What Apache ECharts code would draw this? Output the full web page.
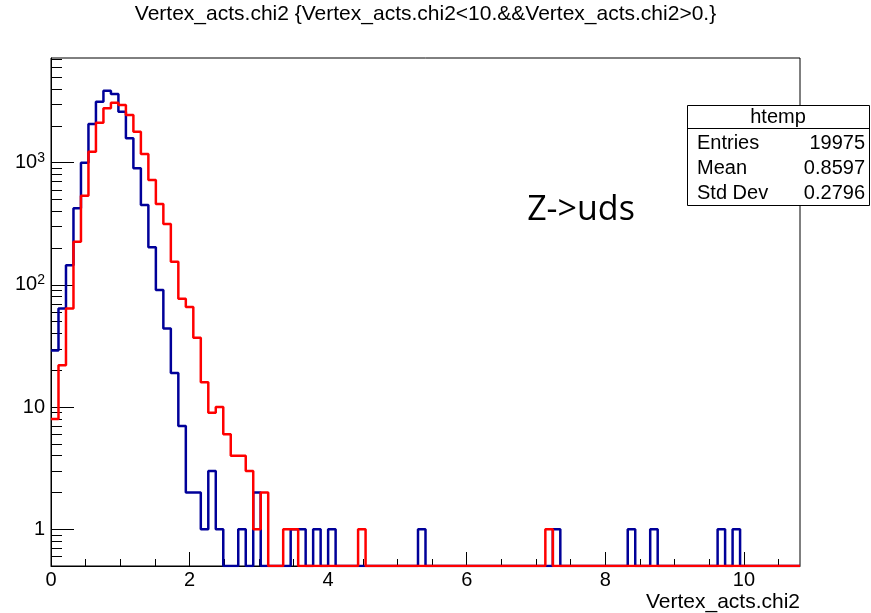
<!DOCTYPE html>
<html>
<head>
<meta charset="utf-8">
<title>Vertex_acts.chi2</title>
<script src="https://cdn.jsdelivr.net/npm/echarts@6/dist/echarts.min.js"></script>
<style>
  html, body { margin: 0; padding: 0; background: #fff; }
  #chart { width: 871px; height: 613px; }
</style>
</head>
<body>
<div id="chart"></div>
<script>
// histogram range, 100 bins
const xMin = 0;
const xMax = 10.81;
const nBins = 100;
const yMin = 0.5;
const yMax = 7200;

// bin contents (blue = htemp, red = second sample)
const blueCounts = [
  29, 64, 145, 424, 1000, 2075, 3155, 3884, 3650, 2615,
  1585, 900, 451, 203, 91, 44, 19, 7, 2, 2,
  1, 3, 1, 0, 0, 1, 0, 2, 0, 0,
  0, 0, 1, 1, 0, 1, 0, 1, 0, 0,
  0, 0, 0, 0, 0, 0, 0, 0, 0, 1,
  0, 0, 0, 0, 0, 0, 0, 0, 0, 0,
  0, 0, 0, 0, 0, 0, 0, 1, 0, 0,
  0, 0, 0, 0, 0, 0, 0, 1, 0, 0,
  1, 0, 0, 0, 0, 0, 0, 0, 0, 1,
  0, 1, 0, 0, 0, 0, 0, 0, 0, 0
];
const redCounts = [
  8, 22, 64, 226, 537, 1230, 2125, 2787, 3100, 2965,
  2457, 1795, 1178, 722, 459, 315, 155, 77, 66, 37,
  16, 9, 10, 6, 4, 4, 3, 1, 2, 0,
  0, 1, 1, 0, 0, 0, 0, 0, 0, 0,
  0, 1, 0, 0, 0, 0, 0, 0, 0, 0,
  0, 0, 0, 0, 0, 0, 0, 0, 0, 0,
  0, 0, 0, 0, 0, 0, 1, 0, 0, 0,
  0, 0, 0, 0, 0, 0, 0, 0, 0, 0,
  0, 0, 0, 0, 0, 0, 0, 0, 0, 0,
  0, 0, 0, 0, 0, 0, 0, 0, 0, 0
];

// axis ticks
const xTickLabels = [0, 2, 4, 6, 8, 10];
const xMinorTicks = [0.5, 1, 1.5, 2, 2.5, 3, 3.5, 4, 4.5, 5, 5.5, 6, 6.5, 7, 7.5, 8, 8.5, 9, 9.5, 10, 10.5];
const yTickLabels = [1, 10, 100, 1000];
const yTickText = ['1', '10', '10{sup|2}', '10{sup|3}'];
const yMinorTicks = [
  0.6, 0.7, 0.8, 0.9,
  2, 3, 4, 5, 6, 7, 8, 9,
  20, 30, 40, 50, 60, 70, 80, 90,
  200, 300, 400, 500, 600, 700, 800, 900,
  2000, 3000, 4000, 5000, 6000, 7000
];

const statsTitle = 'htemp';
const statsRows = [
  ['Entries', '19975'],
  ['Mean', '0.8597'],
  ['Std Dev', '0.2796']
];

const FONT = 'Liberation Sans';

// left edge of every bin + closing point; empty bins sit on the bottom of the log axis
function stepData(counts) {
  const w = (xMax - xMin) / nBins;
  const pts = counts.map((c, i) => [xMin + i * w, c > 0 ? c : yMin]);
  pts.push([xMax, pts[pts.length - 1][1]]);
  return pts;
}

const chart = echarts.init(document.getElementById('chart'));

const statsGraphics = [
  {
    type: 'rect',
    z: 100,
    shape: { x: 687.5, y: 105.5, width: 182, height: 100 },
    style: { fill: '#fff', stroke: '#000', lineWidth: 1 }
  },
  {
    type: 'line',
    z: 101,
    shape: { x1: 687.5, y1: 128.5, x2: 869.5, y2: 128.5 },
    style: { stroke: '#000', lineWidth: 1 }
  },
  {
    type: 'text',
    z: 101,
    x: 778, y: 117,
    style: { text: statsTitle, font: '20px ' + FONT, fill: '#000', align: 'center', verticalAlign: 'middle' }
  }
];
statsRows.forEach((row, i) => {
  statsGraphics.push({
    type: 'text', z: 101, x: 697, y: 143 + i * 25,
    style: { text: row[0], font: '20px ' + FONT, fill: '#000', align: 'left', verticalAlign: 'middle' }
  });
  statsGraphics.push({
    type: 'text', z: 101, x: 865, y: 143 + i * 25,
    style: { text: row[1], font: '20px ' + FONT, fill: '#000', align: 'right', verticalAlign: 'middle' }
  });
});

chart.setOption({
  animation: false,
  backgroundColor: '#fff',
  grid: {
    left: 51, right: 71, top: 58, bottom: 47,
    show: true, borderColor: '#000', borderWidth: 1, backgroundColor: 'transparent'
  },
  xAxis: [
    {
      type: 'value', min: xMin, max: xMax, position: 'bottom',
      axisLine: { show: true, onZero: false, lineStyle: { color: '#000', width: 1 } },
      axisTick: { show: true, inside: true, length: 14, customValues: xTickLabels, lineStyle: { color: '#000' } },
      axisLabel: { customValues: xTickLabels, color: '#000', fontSize: 20, fontFamily: FONT, margin: 4 },
      splitLine: { show: false }
    },
    {
      type: 'value', min: xMin, max: xMax, position: 'bottom',
      axisLine: { show: false, onZero: false },
      axisTick: { show: true, inside: true, length: 7, customValues: xMinorTicks, lineStyle: { color: '#000' } },
      axisLabel: { show: false },
      splitLine: { show: false }
    }
  ],
  yAxis: [
    {
      type: 'log', logBase: 10, min: yMin, max: yMax, position: 'left',
      axisLine: { show: true, onZero: false, lineStyle: { color: '#000', width: 1 } },
      axisTick: { show: true, inside: true, length: 23, customValues: yTickLabels, lineStyle: { color: '#000' } },
      axisLabel: {
        customValues: yTickLabels, color: '#000', fontSize: 20, fontFamily: FONT, margin: 6,
        lineHeight: 24, verticalAlign: 'middle',
        formatter: v => yTickText[Math.round(Math.log10(v))],
        rich: {
          sup: { fontSize: 14, fontFamily: FONT, color: '#000', lineHeight: 24, verticalAlign: 'top', padding: [0, 0, 12, 0] }
        }
      },
      splitLine: { show: false }
    },
    {
      type: 'log', logBase: 10, min: yMin, max: yMax, position: 'left',
      axisLine: { show: false, onZero: false },
      axisTick: { show: true, inside: true, length: 11, customValues: yMinorTicks, lineStyle: { color: '#000' } },
      axisLabel: { show: false },
      splitLine: { show: false }
    }
  ],
  series: [
    {
      type: 'line', step: 'end', symbol: 'none', xAxisIndex: 0, yAxisIndex: 0,
      lineStyle: { color: '#000099', width: 2.5 },
      data: stepData(blueCounts)
    },
    {
      type: 'line', step: 'end', symbol: 'none', xAxisIndex: 0, yAxisIndex: 0,
      lineStyle: { color: '#ff0000', width: 2.5 },
      data: stepData(redCounts)
    }
  ],
  graphic: [
    {
      type: 'text', x: 425.5, y: 14,
      style: {
        text: 'Vertex_acts.chi2 {Vertex_acts.chi2<10.&&Vertex_acts.chi2>0.}',
        font: '21px ' + FONT, fill: '#000', align: 'center', verticalAlign: 'middle'
      }
    },
    {
      type: 'text', x: 800, y: 602,
      style: { text: 'Vertex_acts.chi2', font: '21px ' + FONT, fill: '#000', align: 'right', verticalAlign: 'middle' }
    },
    {
      type: 'text', x: 581, y: 210,
      style: { text: 'Z->uds', font: '34px "Open Sans"', fill: '#000', align: 'center', verticalAlign: 'middle' }
    }
  ].concat(statsGraphics)
});
</script>
</body>
</html>
